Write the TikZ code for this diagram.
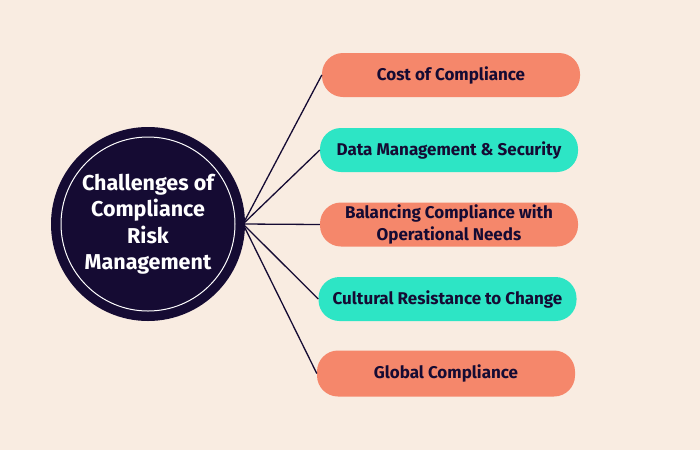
\documentclass[tikz,border=0pt]{standalone}
\usepackage{fontspec}
\setmainfont{Fira Sans}
\definecolor{bg}{HTML}{F9ECE1}
\definecolor{salmon}{HTML}{F5876B}
\definecolor{teal}{HTML}{2DE5C5}
\definecolor{navy}{HTML}{150B33}
\begin{document}
\begin{tikzpicture}[x=1pt,y=-1pt,
  item/.style={rounded corners=21pt, minimum width=258pt, minimum height=44pt, inner sep=0pt,
    font=\fontsize{17}{22}\selectfont\bfseries, text=navy, align=center},
  link/.style={draw=navy, line width=1.3pt}]
\fill[bg] (0,0) rectangle (700,450);
\useasboundingbox (0,0) rectangle (700,450);
\node[circle, fill=navy, minimum size=194pt, inner sep=0pt] (hub) at (148,224) {};
\draw[white, line width=1pt] (hub.center) circle (87pt);
\node[text=white, align=center, font=\fontsize{21.5}{26.5}\selectfont\bfseries] (hubtext) at (148,224) {Challenges of\\Compliance\\Risk\\Management};
\coordinate (hp) at (243,224);
\node[item, fill=salmon] (a) at (451,75) {Cost of Compliance};
\node[item, fill=teal] (b) at (449,150) {Data Management \& Security};
\node[item, fill=salmon] (c) at (449,224.5) {Balancing Compliance with\\Operational Needs};
\node[item, fill=teal] (d) at (447.5,299) {Cultural Resistance to Change};
\node[item, fill=salmon, minimum height=46pt] (e) at (446,373.5) {Global Compliance};
\foreach \n in {a,b,c,d,e} \draw[link] (hp) -- (\n.west);
\end{tikzpicture}
\end{document}
